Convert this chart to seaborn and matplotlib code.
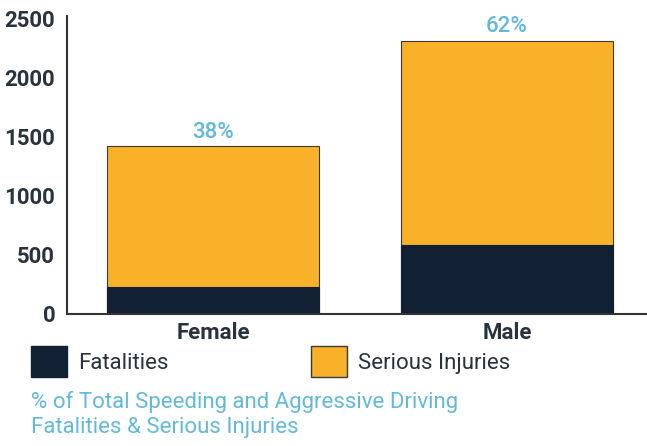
import matplotlib
matplotlib.use("Agg")
import matplotlib.pyplot as plt
from matplotlib.patches import Patch
import seaborn as sns
import pandas as pd

genders = ["Female", "Male"]
fatalities = [230, 580]
serious_injuries = [1190, 1730]
share_labels = ["38%", "62%"]
y_ticks = [0, 500, 1000, 1500, 2000, 2500]

NAVY = "#112033"
GOLD = "#F9B129"
BLUE = "#62B9DC"
TEXT = "#2A323D"

sns.set_theme(style="white")
plt.rcParams["font.family"] = ["Roboto", "DejaVu Sans"]

totals = [f + s for f, s in zip(fatalities, serious_injuries)]
df = pd.DataFrame({"gender": genders, "fatalities": fatalities, "total": totals})

fig = plt.figure(figsize=(6.47, 4.46), dpi=100)
ax = fig.add_axes([67 / 647, 1 - 314 / 446, 1 - 67 / 647, (314 - 16) / 446])

# stacked bars: full height in gold, fatalities drawn over the base
sns.barplot(data=df, x="gender", y="total", color=GOLD, saturation=1,
            width=0.72, edgecolor="#3a3a3a", linewidth=0.8, ax=ax)
sns.barplot(data=df, x="gender", y="fatalities", color=NAVY, saturation=1,
            width=0.72, edgecolor=NAVY, linewidth=0.8, ax=ax)

for i, (t, lab) in enumerate(zip(totals, share_labels)):
    ax.text(i, t + 28, lab, ha="center", va="bottom", color=BLUE,
            fontsize=16, fontweight="medium")

ax.set_xlim(-0.497, 1.476)
ax.set_ylim(0, 2517)
ax.set_yticks(y_ticks)
ax.set_yticklabels([str(v) for v in y_ticks], fontsize=16, fontweight="bold", color=TEXT)
ax.set_xticks(range(len(genders)))
ax.set_xticklabels(genders, fontsize=16, fontweight="bold", color=TEXT)
ax.tick_params(axis="y", length=0, pad=8.5)
ax.tick_params(axis="x", length=0, pad=5.5)
ax.set_xlabel("")
ax.set_ylabel("")
for side in ["top", "right"]:
    ax.spines[side].set_visible(False)
for side in ["left", "bottom"]:
    ax.spines[side].set_color("#333333")
    ax.spines[side].set_linewidth(1.5)

handles = [Patch(facecolor=NAVY, edgecolor=NAVY, label="Fatalities"),
           Patch(facecolor=GOLD, edgecolor="#3a3a3a", label="Serious Injuries")]
fig.legend(handles=handles, loc="upper left", bbox_to_anchor=(31 / 647, 1 - 346 / 446),
           ncol=2, frameon=False, fontsize=16, handlelength=1.62, handleheight=1.8,
           handletextpad=0.5, columnspacing=6.4, borderpad=0, borderaxespad=0,
           labelcolor=TEXT)

fig.text(31 / 647, 1 - 402 / 446, "% of Total Speeding and Aggressive Driving",
         color=BLUE, fontsize=16, va="center", ha="left")
fig.text(31 / 647, 1 - 428 / 446, "Fatalities & Serious Injuries",
         color=BLUE, fontsize=16, va="center", ha="left")

fig.savefig("out.png", dpi=100)
